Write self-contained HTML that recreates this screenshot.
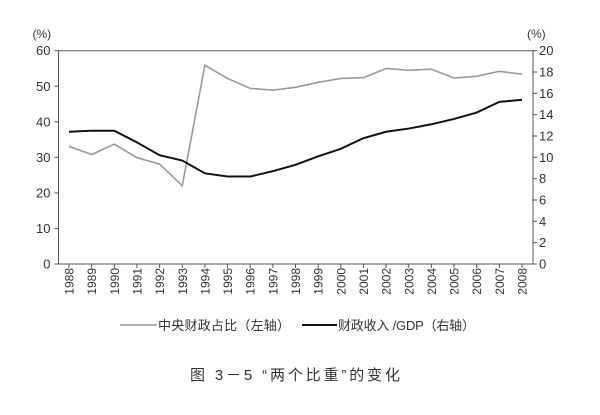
<!DOCTYPE html>
<html><head><meta charset="utf-8"><style>
body{margin:0;background:#fff;}
svg text{font-family:"Liberation Sans","Noto Sans CJK SC",sans-serif;fill:#333;}
</style></head><body>
<svg id="chart" width="600" height="410" xmlns="http://www.w3.org/2000/svg"></svg>
<script>
const years=['1988','1989','1990','1991','1992','1993','1994','1995','1996','1997','1998','1999','2000','2001','2002','2003','2004','2005','2006','2007','2008'];
const centralShare=[33.1,30.8,33.7,29.9,28.1,22.0,55.9,52.2,49.4,48.9,49.7,51.1,52.2,52.4,55.0,54.5,54.8,52.3,52.8,54.2,53.4];
const revenueGdp=[12.4,12.5,12.5,11.4,10.2,9.7,8.5,8.2,8.2,8.7,9.3,10.1,10.8,11.8,12.4,12.7,13.1,13.6,14.2,15.2,15.4];
const leftTicks=[0,10,20,30,40,50,60];
const rightTicks=[0,2,4,6,8,10,12,14,16,18,20];

const svg=document.getElementById('chart');
const NS='http://www.w3.org/2000/svg';
const L=58.5,R=533,T=50.7,B=264,X0=69,X1=522;
const x=i=>X0+(X1-X0)*i/(years.length-1);
const yL=v=>B-(B-T)*v/60;
const yR=v=>B-(B-T)*v/20;
function mk(tag,attrs,parent){const e=document.createElementNS(NS,tag);for(const k in attrs)e.setAttribute(k,attrs[k]);(parent||svg).appendChild(e);return e;}

const frame=mk('path',{d:`M${L},${T}H${R}V${B}H${L}Z`,fill:'none',stroke:'#555','stroke-width':1});



leftTicks.forEach(v=>{
  const t=mk('line',{x1:L-4,x2:L,y1:yL(v),y2:yL(v),stroke:'#555'});
  
  
  const tx=mk('text',{x:L-8,y:yL(v)+4.5,'text-anchor':'end','font-size':13});
  tx.textContent=v;
  
  
});
rightTicks.forEach(v=>{
  const t=mk('line',{x1:R,x2:R+4,y1:yR(v),y2:yR(v),stroke:'#555'});
  
  
  const tx=mk('text',{x:R+6,y:yR(v)+4.5,'text-anchor':'start','font-size':13});
  tx.textContent=v;
  
  
});
years.forEach((yr,i)=>{
  const t=mk('line',{x1:x(i),x2:x(i),y1:B,y2:B+4,stroke:'#555'});
  
  
  const tx=mk('text',{x:0,y:0,'text-anchor':'end','font-size':12,transform:`translate(${x(i)+4.5},${268}) rotate(-90)`});
  tx.textContent=yr;
  
  
});
const ul=mk('text',{x:L-26,y:38,'font-size':12});ul.textContent='(%)';


const ur=mk('text',{x:R-6,y:38,'font-size':12});ur.textContent='(%)';



const g=mk('polyline',{points:centralShare.map((v,i)=>x(i)+','+yL(v)).join(' '),fill:'none',stroke:'#999','stroke-width':1.6});


const k=mk('polyline',{points:revenueGdp.map((v,i)=>x(i)+','+yR(v)).join(' '),fill:'none',stroke:'#111','stroke-width':2});



const l1=mk('line',{x1:120,x2:157,y1:325,y2:325,stroke:'#999','stroke-width':1.6});


const t1=mk('text',{x:158,y:330,'font-size':13,textLength:132,lengthAdjust:'spacing'});t1.textContent='中央财政占比（左轴）';


const l2=mk('line',{x1:302,x2:337,y1:325,y2:325,stroke:'#111','stroke-width':2});


const t2=mk('text',{x:338,y:330,'font-size':13,textLength:137,lengthAdjust:'spacing'});t2.textContent='财政收入 /GDP（右轴）';



const title=mk('text',{x:190,y:380,'font-size':15,textLength:210,lengthAdjust:'spacing'});title.textContent='图 3－5 “两个比重”的变化';


</script>
</body></html>
